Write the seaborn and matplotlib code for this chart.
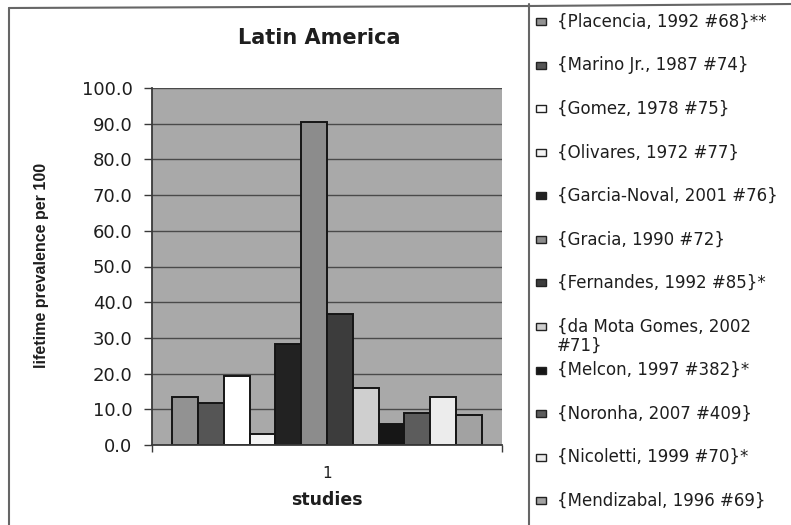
import matplotlib
matplotlib.use("Agg")
import matplotlib.pyplot as plt
import seaborn as sns
import pandas as pd
from matplotlib.patches import Rectangle
from matplotlib.lines import Line2D

# Lifetime prevalence (per 100) reported by each Latin American study
studies = [
    "{Placencia, 1992 #68}**",
    "{Marino Jr., 1987 #74}",
    "{Gomez, 1978 #75}",
    "{Olivares, 1972 #77}",
    "{Garcia-Noval, 2001 #76}",
    "{Gracia, 1990 #72}",
    "{Fernandes, 1992 #85}*",
    "{da Mota Gomes, 2002\n#71}",
    "{Melcon, 1997 #382}*",
    "{Noronha, 2007 #409}",
    "{Nicoletti, 1999 #70}*",
    "{Mendizabal, 1996 #69}",
]
prevalence = [13.5, 11.7, 19.3, 3.2, 28.3, 90.4, 36.6, 16.0, 6.0, 9.1, 13.5, 8.3]
group = ["1"] * len(studies)
y_ticks = [0, 10, 20, 30, 40, 50, 60, 70, 80, 90, 100]

shades = ["#929292", "#555555", "#ffffff", "#f4f4f4", "#222222", "#8c8c8c",
          "#3c3c3c", "#cfcfcf", "#161616", "#5c5c5c", "#ececec", "#a2a2a2"]

sns.set_theme(style="white")
plt.rcParams["font.family"] = ["DejaVu Sans"]

W, H = 791, 525
fig = plt.figure(figsize=(W / 100, H / 100), dpi=100)
fig.patch.set_facecolor("white")


def fx(px):
    return px / W


def fy(py):
    return 1 - py / H


ax = fig.add_axes([fx(152), fy(445), fx(502) - fx(152), fy(88) - fy(445)])

df = pd.DataFrame({"group": group, "study": studies, "value": prevalence})
sns.barplot(data=df, x="group", y="value", hue="study", hue_order=studies,
            palette=shades, saturation=1, width=0.883, dodge=True,
            edgecolor="#151515", linewidth=1.4, legend=False, ax=ax)

ax.set_xlim(-0.5, 0.5)
ax.set_ylim(0, 100)
ax.set_facecolor("#a9a9a9")
ax.set_yticks(y_ticks)
ax.set_yticklabels([f"{v:.1f}" for v in y_ticks])
ax.yaxis.grid(True, color="#4a4a4a", linewidth=1.0)
ax.set_axisbelow(True)

for side in ("top", "right"):
    ax.spines[side].set_visible(False)
for side in ("left", "bottom"):
    ax.spines[side].set_color("#3a3a3a")
    ax.spines[side].set_linewidth(1.3)

ax.tick_params(axis="y", direction="out", length=6, width=1, color="#3a3a3a",
               labelsize=13, pad=8, labelcolor="#1e1e1e", left=True)
ax.set_xticks([0])
ax.set_xticklabels(["1"])
ax.set_xticks([-0.5, 0.5], minor=True)
ax.tick_params(axis="x", which="major", length=0, labelsize=11, pad=15,
               labelcolor="#1e1e1e")
ax.tick_params(axis="x", which="minor", direction="out", length=5, width=1,
               color="#3a3a3a", bottom=True)

ax.set_xlabel("studies", fontsize=12.5, fontweight="bold", color="#1e1e1e")
ax.xaxis.set_label_coords(0.5, -(491 - 445) / 357)
ax.xaxis.label.set_va("top")
ax.set_ylabel("lifetime prevalence per 100", fontsize=11.5, fontweight="bold",
              family=["Liberation Sans", "DejaVu Sans"], color="#1e1e1e",
              va="center")
ax.yaxis.set_label_coords((42 - 152) / 350, (445 - 265) / 357)

fig.text(fx(319), fy(38), "Latin America", ha="center", va="center",
         fontsize=15, fontweight="bold", color="#1e1e1e")

# Key panel on the right
frame_kw = dict(color="#666666", linewidth=1.5, transform=fig.transFigure)
fig.add_artist(Line2D([fx(9), fx(9)], [fy(8), fy(525)], **frame_kw))
fig.add_artist(Line2D([fx(9), fx(529)], [fy(8), fy(6)], **frame_kw))
fig.add_artist(Line2D([fx(529), fx(791)], [fy(6), fy(4)], **frame_kw))
fig.add_artist(Line2D([fx(529), fx(529)], [fy(4), fy(525)], **frame_kw))

step = 43.55
for i, (name, shade) in enumerate(zip(studies, shades)):
    yc = 21.7 + step * i
    fig.add_artist(Rectangle((fx(536), fy(yc + 3.5)), 10 / W, 7 / H,
                             facecolor=shade, edgecolor="#222222",
                             linewidth=1.0, transform=fig.transFigure))
    if "\n" in name:
        fig.text(fx(557), fy(yc - 8.5), name, ha="left", va="top",
                 fontsize=12, color="#1e1e1e", linespacing=1.05)
    else:
        fig.text(fx(557), fy(yc), name, ha="left", va="center",
                 fontsize=12, color="#1e1e1e")

fig.savefig("out.png", dpi=100)
